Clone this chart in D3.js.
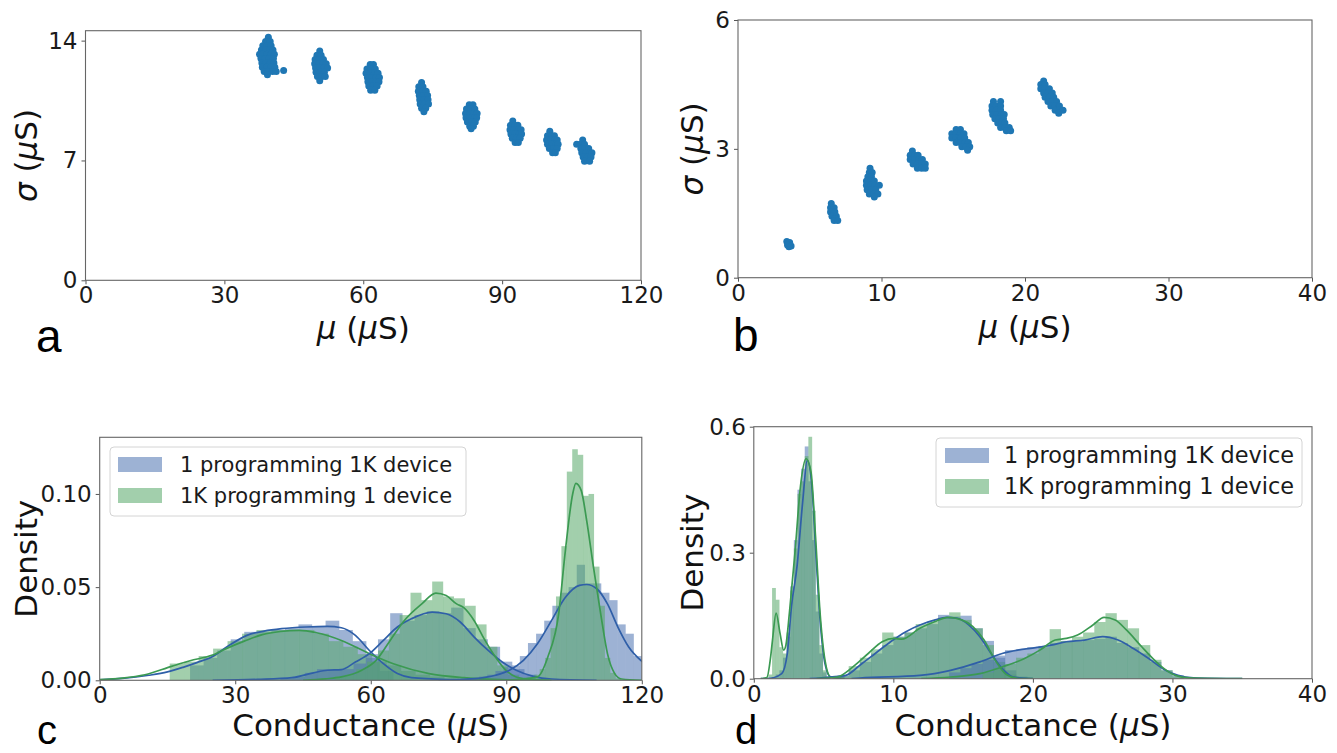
<!DOCTYPE html>
<html><head><meta charset="utf-8">
<script src="https://cdn.jsdelivr.net/npm/d3@7"></script>
<style>body{margin:0;background:#fff;} svg{display:block;}</style>
</head><body><svg id="chart" width="1337" height="753"></svg>
<script>
// ---------------- DATA ----------------
// Panel a: sigma vs mu clusters, rows of [sigma, [mu values]]
const aCluster1 = [[14.2,[39.5]],[13.95,[38.9,39.9]],[13.7,[38.3,39.2,40.1]],[13.45,[38.0,38.9,39.8,40.5]],[13.2,[37.6,38.3,39.2,40.1,40.8]],[12.95,[37.9,38.8,39.7,40.6]],[12.7,[38.1,39.0,39.9,40.7]],[12.45,[38.2,39.1,40.0,40.9]],[12.2,[38.6,39.5,40.4,41.2]],[12.0,[39.3]],[12.25,[42.8]]];
const aCluster2 = [[13.4,[50.6]],[13.15,[50.0,50.9]],[12.9,[49.6,50.5,51.4]],[12.65,[49.5,50.4,51.3,52.0]],[12.4,[49.7,50.6,51.5,52.3]],[12.15,[49.8,50.7,51.6]],[11.9,[50.1,51.0,51.8]],[11.65,[50.6]]];
const aCluster3 = [[12.6,[61.5,62.2]],[12.35,[60.8,61.7,62.6]],[12.1,[60.6,61.5,62.4,63.2]],[11.85,[60.9,61.8,62.7,63.5]],[11.6,[61.0,61.9,62.8,63.4]],[11.35,[61.2,62.1,63.0]],[11.1,[61.6,62.5]]];
const aCluster4 = [[11.55,[72.6]],[11.3,[72.0,72.9]],[11.05,[71.9,72.8,73.6]],[10.8,[72.1,73.0,73.9]],[10.55,[72.2,73.1,74.0]],[10.3,[72.3,73.2,74.1]],[10.05,[72.6,73.5]],[9.85,[73.1]]];
const aCluster5 = [[10.25,[82.9,83.7]],[10.0,[82.3,83.2,84.1]],[9.75,[82.1,83.0,83.9,84.6]],[9.5,[82.2,83.1,84.0,84.5]],[9.25,[82.5,83.4,84.2]],[9.0,[83.0,83.8]],[8.85,[83.3]]];
const aCluster6 = [[9.3,[92.3]],[9.05,[91.8,92.7,93.4]],[8.8,[91.7,92.6,93.5,94.1]],[8.55,[91.9,92.8,93.7,94.2]],[8.3,[92.2,93.1,93.9]],[8.05,[92.8,93.5]]];
const aCluster7 = [[8.7,[100.3]],[8.45,[99.8,100.7,101.3]],[8.2,[99.6,100.5,101.4,101.9]],[7.95,[99.8,100.7,101.6,102.1]],[7.7,[100.2,101.1,101.9]],[7.45,[100.9,101.5]]];
const aCluster8 = [[8.2,[107.4]],[7.95,[106.1,106.9,107.8]],[7.7,[107.0,107.9,108.7]],[7.45,[107.2,108.1,109.0,109.4]],[7.2,[107.5,108.4,109.2]],[6.95,[107.8,108.9]]];

// Panel b
const bCluster1 = [[0.84,[3.4]],[0.82,[3.6]],[0.8,[3.5]],[0.76,[3.45]],[0.74,[3.7]],[0.72,[3.55]]];
const bCluster2 = [[1.73,[6.5]],[1.63,[6.45,6.7]],[1.58,[6.6]],[1.53,[6.45,6.75]],[1.48,[6.65]],[1.43,[6.55,6.85]],[1.38,[6.75]],[1.33,[6.7,6.95]]];
const bCluster3 = [[2.55,[9.2]],[2.45,[9.15,9.35]],[2.35,[9.05,9.3]],[2.25,[8.95,9.25,9.5]],[2.15,[8.95,9.25,9.55,9.85]],[2.05,[9.0,9.3,9.6]],[1.95,[9.15,9.45,9.75]],[1.88,[9.5]]];
const bCluster4 = [[2.95,[12.15]],[2.85,[12.0,12.3,12.55]],[2.75,[12.0,12.3,12.6,12.85]],[2.65,[12.2,12.5,12.8,13.05]],[2.55,[12.5,12.8,13.05]]];
const bCluster5 = [[3.45,[15.2,15.5]],[3.35,[14.9,15.2,15.5,15.75]],[3.25,[14.9,15.2,15.5,15.8]],[3.15,[15.2,15.5,15.8,16.05]],[3.05,[15.6,15.9,16.15]],[2.97,[16.0]]];
const bCluster6 = [[4.1,[17.8,18.3]],[4.0,[17.7,18.0,18.3]],[3.9,[17.7,18.0,18.3]],[3.8,[17.75,18.05,18.35,18.55]],[3.7,[17.9,18.2,18.5]],[3.6,[18.1,18.4,18.6]],[3.5,[18.3,18.6,18.9]],[3.42,[18.7,19.0]]];
const bCluster7 = [[4.58,[21.3]],[4.5,[21.1,21.4]],[4.4,[21.1,21.4,21.7]],[4.3,[21.3,21.6,21.9]],[4.2,[21.4,21.7,22.0]],[4.1,[21.6,21.9,22.2]],[4.0,[21.8,22.1,22.4]],[3.9,[22.1,22.4,22.65]],[3.83,[22.35]]];

// Panel c histograms: [binStart, binWidth] and densities
const cBlueBins1 = [20, 3.0];
const cBlueHist1 = [0.008,0.012,0.016,0.022,0.026,0.026,0.027,0.028,0.030,0.029,0.032,0.027,0.021,0.012,0.005];
const cGreenBins1 = [15.5, 3.2];
const cGreenHist1 = [0.009,0.010,0.013,0.017,0.021,0.025,0.027,0.027,0.027,0.027,0.025,0.021,0.018,0.014,0.010,0.008,0.005,0.003,0.002,0.001];
const cBlueBins2 = [40, 2.7];
const cBlueHist2 = [0.001,0.002,0.004,0.006,0.006,0.006,0.009,0.014,0.022,0.036,0.032,0.035,0.037,0.036,0.039,0.028,0.022,0.018,0.010,0.006,0.003,0.001];
const cGreenBins2 = [52, 2.4];
const cGreenHist2 = [0.002,0.003,0.006,0.010,0.016,0.025,0.035,0.047,0.043,0.053,0.045,0.044,0.040,0.030,0.018,0.008,0.003,0.001];
const cBlueBins3 = [84, 1.8];
const cBlueHist3 = [0.002,0.003,0.005,0.007,0.008,0.013,0.020,0.025,0.032,0.040,0.047,0.050,0.062,0.052,0.052,0.047,0.043,0.030,0.025,0.013];
const cGreenBins3 = [96.2, 1.2];
const cGreenHist3 = [0.003,0.006,0.012,0.028,0.045,0.072,0.112,0.124,0.121,0.099,0.100,0.061,0.040,0.012,0.004,0.001];
// Panel c KDE curves [x, density]
const cBlueKde1 = [[0,0.0003],[5,0.001],[10.9,0.0027],[15,0.0045],[18.6,0.0071],[21.5,0.0095],[24.8,0.0125],[28.7,0.0188],[32.6,0.0241],[36.4,0.0264],[40.3,0.0277],[45.7,0.0286],[50.4,0.0289],[53.5,0.0282],[56.6,0.0241],[59.7,0.016],[62.8,0.0089],[65.9,0.0036],[69,0.0014],[76.7,0.0004],[90,0]];
const cGreenKde1 = [[0,0.0004],[5,0.0012],[10,0.003],[15.9,0.0075],[20,0.0105],[24.8,0.0134],[28,0.017],[32,0.021],[36,0.0245],[40,0.0262],[44.2,0.0268],[48,0.0255],[53.5,0.0214],[59.7,0.0143],[65,0.0089],[72.9,0.0036],[80.6,0.0014],[90,0.0003],[100,0]];
const cBlueKde2 = [[25,0],[35,0.0005],[42.6,0.0014],[47.3,0.004],[50.4,0.0054],[53.5,0.0057],[56.6,0.0098],[59.7,0.0143],[62.8,0.0214],[65.9,0.0286],[69,0.033],[73.6,0.0366],[76.7,0.0357],[79.8,0.0313],[82.9,0.0232],[86,0.016],[89.1,0.0098],[92.2,0.0054],[96,0.0021],[100,0.0007],[110,0]];
const cGreenKde2 = [[45,0],[50,0.0008],[53.5,0.0018],[58,0.0054],[61.2,0.0107],[64.3,0.0214],[67.4,0.032],[71.3,0.041],[74.4,0.0468],[76.7,0.0455],[79,0.041],[80.6,0.039],[82.9,0.032],[85.3,0.0214],[87.6,0.0125],[89.9,0.0054],[92.2,0.0018],[96,0.0004],[100,0]];
const cBlueKde3 = [[75,0],[82.9,0.0009],[87.6,0.0027],[90.7,0.0054],[93.8,0.0107],[96.9,0.0196],[100,0.032],[103.1,0.0446],[106.2,0.0509],[107.8,0.0514],[110.1,0.049],[112.4,0.041],[114.7,0.0286],[117.1,0.0179],[120.2,0.0098],[125,0.003]];
const cGreenKde3 = [[90,0],[92.2,0.0004],[96.9,0.0018],[99.2,0.0125],[101.6,0.0357],[103.1,0.070],[104.7,0.100],[105.4,0.1057],[106.6,0.1018],[107.8,0.0857],[109.3,0.0607],[110.9,0.0357],[112.4,0.0143],[114,0.0036],[115.5,0.0007],[120,0]];

// Panel d histograms
const dBlueBins1 = [1.05, 0.26];
const dBlueHist1 = [0,0.004,0.01,0.02,0.05,0.10,0.22,0.33,0.45,0.50,0.553,0.47,0.33,0.16,0.06,0.015,0.003];
const dGreenBins1 = [1.05, 0.26];
const dGreenHist1 = [0.01,0.216,0.188,0.075,0.06,0.11,0.21,0.31,0.44,0.47,0.53,0.576,0.40,0.20,0.08,0.02,0.005];
const dBlueBins2 = [6.0, 0.8];
const dBlueHist2 = [0.008,0.02,0.04,0.06,0.08,0.10,0.11,0.12,0.13,0.152,0.148,0.15,0.12,0.09,0.05,0.02,0.005];
const dGreenBins2 = [6.0, 0.8];
const dGreenHist2 = [0.006,0.03,0.05,0.07,0.11,0.10,0.11,0.13,0.136,0.145,0.158,0.14,0.12,0.08,0.04,0.01];
const dBlueBins3 = [14.0, 0.8];
const dBlueHist3 = [0.015,0.025,0.035,0.045,0.055,0.068,0.07,0.075,0.078,0.085,0.09,0.088,0.092,0.095,0.10,0.085,0.075,0.06,0.04,0.02,0.008];
const dGreenBins3 = [16.4, 0.8];
const dGreenHist3 = [0.015,0.025,0.035,0.05,0.06,0.075,0.118,0.09,0.10,0.11,0.135,0.156,0.14,0.12,0.08,0.045,0.02,0.005];
// Panel d KDE curves
const dBlueKde1 = [[0.5,0],[1.2,0.001],[2.0,0.012],[2.4,0.06],[2.7,0.172],[3.1,0.268],[3.5,0.42],[3.83,0.52],[4.16,0.46],[4.42,0.316],[4.75,0.14],[5.1,0.036],[5.5,0.004],[6.5,0]];
const dGreenKde1 = [[0.5,0],[0.94,0.003],[1.2,0.05],[1.34,0.092],[1.6,0.156],[1.88,0.108],[2.14,0.068],[2.3,0.08],[2.55,0.156],[2.95,0.3],[3.35,0.46],[3.75,0.524],[4.1,0.492],[4.42,0.34],[4.75,0.156],[5.1,0.044],[5.5,0.004],[6.5,0]];
const dBlueKde2 = [[4,0],[5.5,0.004],[6.6,0.008],[7.6,0.032],[8.7,0.06],[9.8,0.088],[10.9,0.112],[11.9,0.128],[13,0.14],[13.8,0.146],[14.6,0.144],[15.4,0.128],[16.2,0.1],[17,0.06],[17.8,0.024],[18.6,0.004],[20,0]];
const dGreenKde2 = [[4.5,0],[6,0.004],[7.1,0.028],[8.2,0.06],[9.2,0.088],[10.05,0.096],[10.6,0.094],[11.9,0.12],[13,0.136],[13.9,0.146],[14.9,0.14],[15.7,0.124],[16.5,0.092],[17.3,0.044],[18.1,0.01],[18.9,0.001],[20,0]];
const dBlueKde3 = [[7,0],[7.6,0.0016],[11.9,0.008],[14.1,0.02],[16.2,0.04],[17.8,0.06],[18.9,0.068],[20.2,0.074],[21.3,0.08],[22.4,0.088],[23.7,0.092],[25,0.1],[26.1,0.092],[27.2,0.072],[28.3,0.048],[29.4,0.022],[30.4,0.008],[31.5,0.002],[35,0]];
const dGreenKde3 = [[12,0],[14.1,0.004],[16.2,0.012],[17.8,0.028],[19.4,0.048],[20.5,0.068],[21.6,0.092],[22.4,0.096],[23.2,0.104],[24.3,0.128],[25.1,0.146],[25.9,0.14],[26.7,0.116],[27.8,0.076],[28.6,0.048],[29.4,0.024],[30.2,0.008],[31.2,0.002],[35,0]];

// Ticks and labels
const aXTicks = [0,30,60,90,120], aYTicks = [0,7,14];
const bXTicks = [0,10,20,30,40], bYTicks = [0,3,6];
const cXTicks = [0,30,60,90,120], cYTicks = [0,0.05,0.10];
const dXTicks = [0,10,20,30,40], dYTicks = [0,0.3,0.6];
const legendLabels = ["1 programming 1K device", "1K programming 1 device"];

// ---------------- DRAWING ----------------
const svg = d3.select('#chart');
svg.append('rect').attr('width',1337).attr('height',753).attr('fill','#fff');
const FONT = "'DejaVu Sans', sans-serif";
const SCAT = '#1f77b4', BLUE = '#4c72b0', GREEN = '#55a868';
const BLUE_LINE = '#2f5fa8', GREEN_LINE = '#3b9a52';
const HIST_OP = 0.55;
const TICK_FS = 23, TITLE_FS = 31;

function flat(clusters){ return clusters.flatMap(c => c.flatMap(([s, ms]) => ms.map(m => [m, s]))); }

function panel(cfg){
  const g = svg.append('g');
  const x = d3.scaleLinear().domain(cfg.xd).range([cfg.l, cfg.r]);
  const y = d3.scaleLinear().domain(cfg.yd).range([cfg.b, cfg.t]);
  const cid = 'clip' + cfg.id;
  svg.append('clipPath').attr('id', cid).append('rect')
    .attr('x', cfg.l).attr('y', cfg.t).attr('width', cfg.r - cfg.l).attr('height', cfg.b - cfg.t);
  const plot = g.append('g').attr('clip-path', `url(#${cid})`);
  cfg.draw(plot, x, y);
  // axes
  const ax = g.append('g').attr('transform', `translate(0,${cfg.b})`)
    .call(d3.axisBottom(x).tickValues(cfg.xt).tickSize(4).tickPadding(2.5).tickFormat(cfg.xf || d3.format('d')));
  const ay = g.append('g').attr('transform', `translate(${cfg.l},0)`)
    .call(d3.axisLeft(y).tickValues(cfg.yt).tickSize(4).tickPadding(4).tickFormat(cfg.yf || d3.format('d')));
  [ax, ay].forEach(a => {
    a.select('.domain').remove();
    a.selectAll('.tick line').attr('stroke', '#555').attr('stroke-width', 1);
    a.selectAll('.tick text').attr('fill', '#1a1a1a').style('font-family', FONT).style('font-size', TICK_FS + 'px');
  });
  g.append('rect').attr('x', cfg.l).attr('y', cfg.t).attr('width', cfg.r - cfg.l).attr('height', cfg.b - cfg.t)
    .attr('fill', 'none').attr('stroke', '#666').attr('stroke-width', 1.1);
  // x title
  const xt = g.append('text').attr('x', (cfg.l + cfg.r) / 2).attr('y', cfg.xty).attr('text-anchor', 'middle')
    .style('font-family', FONT).style('font-size', TITLE_FS + 'px').attr('fill', '#111');
  cfg.xtitle.forEach(([s, it]) => xt.append('tspan').text(s).style('font-style', it ? 'italic' : 'normal'));
  const yt = g.append('text').attr('transform', `translate(${cfg.ytx},${(cfg.t + cfg.b) / 2}) rotate(-90)`)
    .attr('text-anchor', 'middle').style('font-family', FONT).style('font-size', TITLE_FS + 'px').attr('fill', '#111');
  cfg.ytitle.forEach(([s, it]) => yt.append('tspan').text(s).style('font-style', it ? 'italic' : 'normal'));
  g.append('text').attr('x', cfg.lx).attr('y', cfg.ly).text(cfg.letter)
    .style('font-family', "'Liberation Sans', Arial, sans-serif").style('font-size', cfg.lfs + 'px').attr('fill', '#000');
  if (cfg.legend) drawLegend(g, cfg.legend);
}

function scatter(pts){
  return (plot, x, y) => {
    plot.selectAll('circle').data(pts).enter().append('circle')
      .attr('cx', d => x(d[0])).attr('cy', d => y(d[1])).attr('r', 3.5).attr('fill', SCAT);
  };
}

function hist(plot, x, y, bins, vals, color){
  const [s, w] = bins;
  plot.append('g').selectAll('rect').data(vals).enter().append('rect')
    .attr('x', (d, i) => x(s + i * w)).attr('width', (d, i) => x(s + (i + 1) * w) - x(s + i * w) + 0.15)
    .attr('y', d => y(d)).attr('height', d => y(0) - y(d))
    .attr('fill', color).attr('fill-opacity', HIST_OP);
}
function kde(plot, x, y, pts, color){
  const line = d3.line().x(d => x(d[0])).y(d => y(d[1])).curve(d3.curveMonotoneX);
  plot.append('path').attr('d', line(pts)).attr('fill', 'none').attr('stroke', color).attr('stroke-width', 1.7);
}
function distPanel(sets){
  return (plot, x, y) => {
    sets.forEach(s => { hist(plot, x, y, s.bb, s.bh, BLUE); hist(plot, x, y, s.gb, s.gh, GREEN); });
    sets.forEach(s => { kde(plot, x, y, s.bk, BLUE_LINE); kde(plot, x, y, s.gk, GREEN_LINE); });
  };
}
function drawLegend(g, L){
  g.append('rect').attr('x', L.x).attr('y', L.y).attr('width', L.w).attr('height', L.h).attr('rx', 4)
    .attr('fill', '#fff').attr('fill-opacity', 0.85).attr('stroke', '#d4d4d4').attr('stroke-width', 1);
  [BLUE, GREEN].forEach((c, i) => {
    g.append('rect').attr('x', L.px).attr('y', L.py[i]).attr('width', 44).attr('height', 15)
      .attr('fill', c).attr('fill-opacity', HIST_OP);
    g.append('text').attr('x', L.tx).attr('y', L.py[i] + 15).text(legendLabels[i])
      .style('font-family', FONT).style('font-size', L.fs + 'px').attr('fill', '#1a1a1a');
  });
}

const MU = [['μ', true], [' (', false], ['μ', true], ['S)', false]];
const SIG = [['σ', true], [' (', false], ['μ', true], ['S)', false]];
const COND = [['Conductance (', false], ['μ', true], ['S)', false]];
const DENS = [['Density', false]];

panel({ id: 'a', l: 85.5, r: 641, t: 30.7, b: 280.3, xd: [0, 120], yd: [0, 14.58], xt: aXTicks, yt: aYTicks,
  draw: scatter(flat([aCluster1, aCluster2, aCluster3, aCluster4, aCluster5, aCluster6, aCluster7, aCluster8])),
  xtitle: MU, ytitle: SIG, xty: 339, ytx: 37, letter: 'a', lx: 36, ly: 352, lfs: 46 });
panel({ id: 'b', l: 738, r: 1312, t: 20, b: 277.7, xd: [0, 40], yd: [0, 6], xt: bXTicks, yt: bYTicks,
  draw: scatter(flat([bCluster1, bCluster2, bCluster3, bCluster4, bCluster5, bCluster6, bCluster7])),
  xtitle: MU, ytitle: SIG, xty: 338, ytx: 703, letter: 'b', lx: 733, ly: 351, lfs: 46 });
panel({ id: 'c', l: 99.7, r: 641.8, t: 437.3, b: 680.3, xd: [0, 120], yd: [0, 0.1304], xt: cXTicks, yt: cYTicks,
  yf: d3.format('.2f'),
  draw: distPanel([
    { bb: cBlueBins1, bh: cBlueHist1, gb: cGreenBins1, gh: cGreenHist1, bk: cBlueKde1, gk: cGreenKde1 },
    { bb: cBlueBins2, bh: cBlueHist2, gb: cGreenBins2, gh: cGreenHist2, bk: cBlueKde2, gk: cGreenKde2 },
    { bb: cBlueBins3, bh: cBlueHist3, gb: cGreenBins3, gh: cGreenHist3, bk: cBlueKde3, gk: cGreenKde3 }]),
  xtitle: COND, ytitle: DENS, xty: 736, ytx: 37, letter: 'c', lx: 37, ly: 744, lfs: 40,
  legend: { x: 110, y: 447, w: 356, h: 69, px: 118, py: [457, 488], tx: 180, fs: 21 } });
panel({ id: 'd', l: 753.8, r: 1312, t: 426.7, b: 678.7, xd: [0, 40], yd: [0, 0.6], xt: dXTicks, yt: dYTicks,
  yf: d3.format('.1f'),
  draw: distPanel([
    { bb: dBlueBins1, bh: dBlueHist1, gb: dGreenBins1, gh: dGreenHist1, bk: dBlueKde1, gk: dGreenKde1 },
    { bb: dBlueBins2, bh: dBlueHist2, gb: dGreenBins2, gh: dGreenHist2, bk: dBlueKde2, gk: dGreenKde2 },
    { bb: dBlueBins3, bh: dBlueHist3, gb: dGreenBins3, gh: dGreenHist3, bk: dBlueKde3, gk: dGreenKde3 }]),
  xtitle: COND, ytitle: DENS, xty: 736, ytx: 703, letter: 'd', lx: 735, ly: 744, lfs: 40,
  legend: { x: 936, y: 438, w: 366, h: 69, px: 945, py: [448, 479], tx: 1004, fs: 22.4 } });
</script></body></html>
